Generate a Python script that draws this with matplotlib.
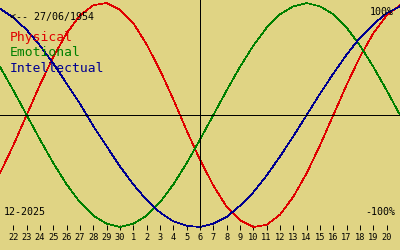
import matplotlib
matplotlib.use('Agg')
import matplotlib.pyplot as plt
import numpy as np

# biorhythm for birth date 27/06/1954, centred on 06/12/2025
# day offsets from today (edge points -15 / +15 run off the chart sides)
offsets = list(range(-15, 16))
day_labels = ['22', '23', '24', '25', '26', '27', '28', '29', '30',
              '1', '2', '3', '4', '5', '6', '7', '8', '9', '10', '11', '12',
              '13', '14', '15', '16', '17', '18', '19', '20']

physical = [-0.52, -0.27, 0.00, 0.27, 0.52, 0.73, 0.89, 0.98, 1.00, 0.94,
            0.82, 0.63, 0.40, 0.14, -0.14, -0.40, -0.63, -0.82, -0.94, -1.00,
            -0.98, -0.89, -0.73, -0.52, -0.27, 0.00, 0.27, 0.52, 0.73, 0.89,
            0.98]
emotional = [0.43, 0.22, 0.00, -0.22, -0.43, -0.62, -0.78, -0.90, -0.97, -1.00,
             -0.97, -0.90, -0.78, -0.62, -0.43, -0.22, 0.00, 0.22, 0.43, 0.62,
             0.78, 0.90, 0.97, 1.00, 0.97, 0.90, 0.78, 0.62, 0.43, 0.22,
             0.00]
intellectual = [0.95, 0.87, 0.76, 0.62, 0.46, 0.28, 0.10, -0.10, -0.28, -0.46,
                -0.62, -0.76, -0.87, -0.95, -0.99, -1.00, -0.97, -0.91, -0.81, -0.69,
                -0.54, -0.37, -0.19, 0.00, 0.19, 0.37, 0.54, 0.69, 0.81, 0.91,
                0.97]

series_names = ['Physical', 'Emotional', 'Intellectual']
colors = ['#e00000', '#008000', '#000090']
bg = '#e0d484'

fig = plt.figure(figsize=(4, 2.5), dpi=100, facecolor=bg)
ax = fig.add_axes([0, 20 / 250, 1, 230 / 250])
ax.set_facecolor(bg)

for vals, c in zip([physical, emotional, intellectual], colors):
    ax.plot(offsets, vals, color=c, lw=0.5, antialiased=False)

ax.axhline(0, color='black', lw=0.7, antialiased=False)
ax.axvline(0, color='black', lw=0.7, antialiased=False)

ax.set_xlim(-15, 15)
ax.set_ylim(-1.027, 1.027)

# one tick per day along the bottom
ax.set_xticks(np.arange(-14, 15), day_labels)
ax.tick_params(axis='x', direction='in', length=3.6, width=0.7, pad=2.0,
               labelsize=6.2)
ax.set_yticks([])
for sp in ax.spines.values():
    sp.set_visible(False)
for lab in ax.get_xticklabels():
    lab.set_family('DejaVu Sans Mono')


def px(x, y):
    return x / 400, 1 - y / 250


mono = 'DejaVu Sans Mono'
fig.text(*px(10, 17), '<-- 27/06/1954', family=mono, size=7.2, va='center', ha='left')
for i, (name, c) in enumerate(zip(series_names, colors)):
    fig.text(*px(10, 38 + 15 * i), name, family=mono, size=9.4, color=c,
             va='center', ha='left')
fig.text(*px(4, 212), '12-2025', family=mono, size=7.2, va='center', ha='left')
fig.text(*px(395, 212), '-100%', family=mono, size=7.2, va='center', ha='right')
fig.text(*px(394, 12), '100%', family=mono, size=7.2, va='center', ha='right')

plt.savefig('out.png', dpi=100, facecolor=bg)
